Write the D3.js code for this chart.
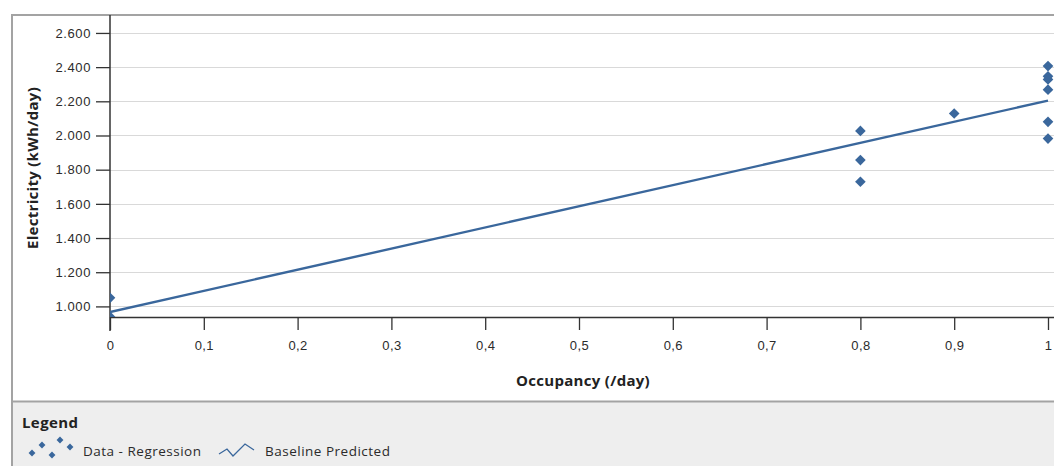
<!DOCTYPE html>
<html>
<head>
<meta charset="utf-8">
<script src="https://cdn.jsdelivr.net/npm/d3@7"></script>
<style>
  html, body { margin: 0; padding: 0; background: #fff; }
  svg { display: block; font-family: "Open Sans", "Noto Sans", sans-serif; }
</style>
</head>
<body>
<svg id="chart" width="1054" height="466"></svg>
<script>
// Measured data: occupancy vs daily electricity use
const occupancy   = [0, 0, 0.8, 0.8, 0.8, 0.9, 1, 1, 1, 1, 1, 1];
const electricity = [1050, 940, 2027, 1856, 1729, 2129, 2406, 2346, 2328, 2268, 2080, 1982];

// Baseline regression line end points
const baselineX = [0, 1];
const baselineY = [967, 2204];

const xTicks = [0, 0.1, 0.2, 0.3, 0.4, 0.5, 0.6, 0.7, 0.8, 0.9, 1];
const yTicks = [1000, 1200, 1400, 1600, 1800, 2000, 2200, 2400, 2600];

const locale = d3.formatLocale({ decimal: ",", thousands: ".", grouping: [3], currency: ["", ""] });
const fmtY = locale.format(",.0f");
const fmtX = locale.format("~g");

const svg = d3.select("#chart");
const W = 1054, H = 466;
const plot = { left: 110, right: 1054, top: 15, bottom: 317 };

const blue = "#3a679c";
const textCol = "#2b2b2b";

const x = d3.scaleLinear().domain([0, 1.0064]).range([plot.left, plot.right]);
const y = d3.scaleLinear().domain([938, 2705]).range([plot.bottom, plot.top]);

// Outer frame
svg.append("rect").attr("x", 12).attr("y", 15).attr("width", W).attr("height", H)
  .attr("fill", "#fff").attr("stroke", "#a3a3a3").attr("stroke-width", 2);

// Legend panel
svg.append("rect").attr("x", 13).attr("y", 402).attr("width", W).attr("height", 70)
  .attr("fill", "#eeeeee");
svg.append("line").attr("x1", 13).attr("x2", W).attr("y1", 401.5).attr("y2", 401.5)
  .attr("stroke", "#a3a3a3").attr("stroke-width", 2);

// Horizontal grid lines
svg.append("g").selectAll("line").data(yTicks).join("line")
  .attr("x1", plot.left).attr("x2", plot.right)
  .attr("y1", d => Math.round(y(d)) + 0.5).attr("y2", d => Math.round(y(d)) + 0.5)
  .attr("stroke", "#d9d9d9").attr("stroke-width", 1.2);

// Y axis
const yAxis = svg.append("g").attr("transform", `translate(${plot.left},0)`)
  .call(d3.axisLeft(y).tickValues(yTicks).tickFormat(fmtY).tickSize(14).tickSizeOuter(0).tickPadding(5));
yAxis.select(".domain").remove();
yAxis.selectAll(".tick line").attr("stroke", "#333").attr("stroke-width", 1.3);
yAxis.selectAll(".tick text").attr("fill", textCol).style("font-size", "13px").style("letter-spacing", "0.6px");
svg.append("line").attr("x1", plot.left).attr("x2", plot.left)
  .attr("y1", plot.top).attr("y2", 331).attr("stroke", "#333").attr("stroke-width", 1.5);

// X axis
const xAxis = svg.append("g").attr("transform", `translate(0,${plot.bottom})`)
  .call(d3.axisBottom(x).tickValues(xTicks).tickFormat(fmtX).tickSize(13).tickSizeOuter(0).tickPadding(11));
xAxis.select(".domain").remove();
xAxis.selectAll(".tick line").attr("stroke", "#333").attr("stroke-width", 1.3);
xAxis.selectAll(".tick text").attr("fill", textCol).style("font-size", "13px").style("letter-spacing", "0.4px");
svg.append("line").attr("x1", plot.left).attr("x2", plot.right)
  .attr("y1", plot.bottom + 0.5).attr("y2", plot.bottom + 0.5).attr("stroke", "#333").attr("stroke-width", 1.5);

// Axis titles
svg.append("text").attr("x", 583).attr("y", 386).attr("text-anchor", "middle")
  .attr("fill", "#222").style("font-size", "15px").style("font-weight", "bold").style("letter-spacing", "0.3px")
  .text("Occupancy (/day)");
svg.append("text").attr("transform", "translate(38,168) rotate(-90)").attr("text-anchor", "middle")
  .attr("fill", "#222").style("font-size", "15px").style("font-weight", "bold").style("letter-spacing", "0.3px")
  .text("Electricity (kWh/day)");

// Plot clip
svg.append("clipPath").attr("id", "plotClip").append("rect")
  .attr("x", plot.left).attr("y", plot.top).attr("width", plot.right - plot.left).attr("height", plot.bottom - plot.top);
const g = svg.append("g").attr("clip-path", "url(#plotClip)");

const diamond = d3.symbol().type(d3.symbolDiamond2).size(72);

// Data points
g.selectAll("path.pt").data(occupancy.map((o, i) => [o, electricity[i]])).join("path")
  .attr("class", "pt")
  .attr("transform", d => `translate(${x(d[0])},${y(d[1])})`)
  .attr("d", diamond).attr("fill", blue);

// Baseline line
g.append("path")
  .datum(baselineX.map((v, i) => [v, baselineY[i]]))
  .attr("d", d3.line().x(d => x(d[0])).y(d => y(d[1])))
  .attr("fill", "none").attr("stroke", blue).attr("stroke-width", 2.4);

// Legend
svg.append("text").attr("x", 22).attr("y", 428).attr("fill", "#222")
  .style("font-size", "15px").style("font-weight", "bold").style("letter-spacing", "0.4px").text("Legend");

const small = d3.symbol().type(d3.symbolDiamond2).size(30);
const lg = svg.append("g");
[[32, 453], [42, 445], [52, 455], [60, 440], [70, 447]].forEach(p => {
  lg.append("path").attr("transform", `translate(${p[0]},${p[1]})`).attr("d", small).attr("fill", blue);
});
lg.append("text").attr("x", 83).attr("y", 456).attr("fill", textCol).style("font-size", "13.5px").style("letter-spacing", "0.5px").text("Data - Regression");
lg.append("path").attr("d", "M219,454 L227,449 L233,456 L245,444 L254,450")
  .attr("fill", "none").attr("stroke", blue).attr("stroke-width", 1.3);
lg.append("text").attr("x", 265).attr("y", 456).attr("fill", textCol).style("font-size", "13.5px").style("letter-spacing", "0.5px").text("Baseline Predicted");
</script>
</body>
</html>
